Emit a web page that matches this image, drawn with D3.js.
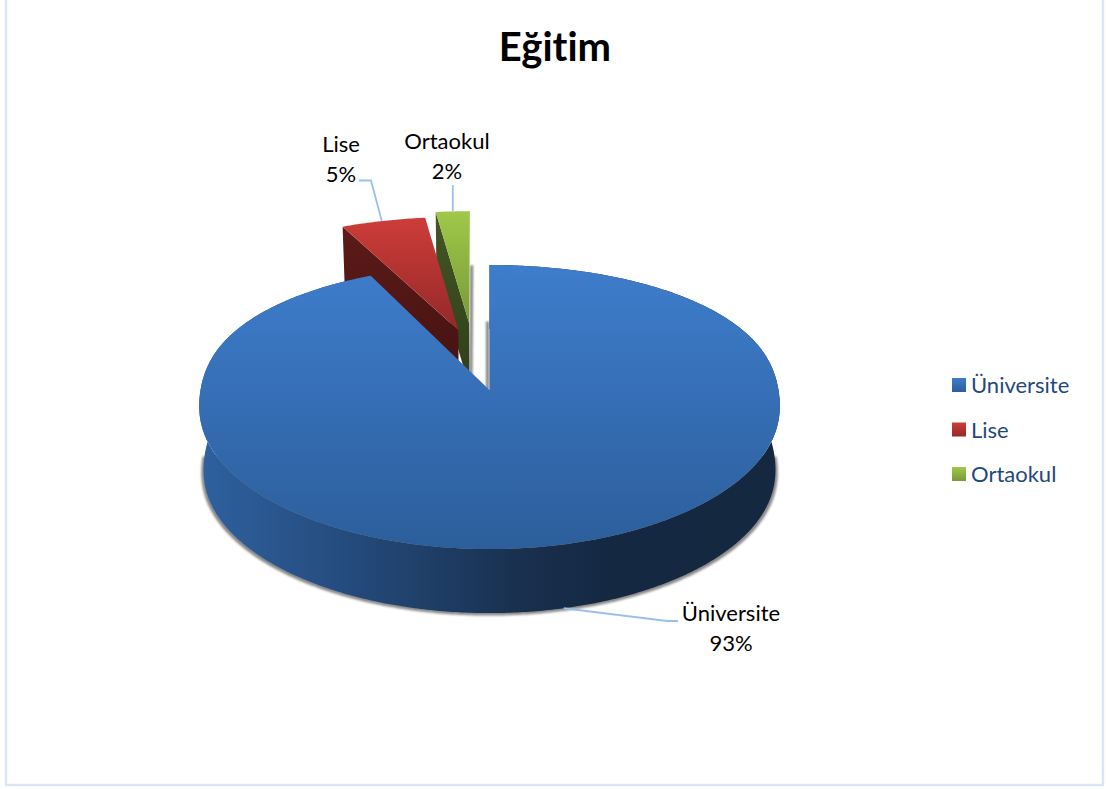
<!DOCTYPE html>
<html><head><meta charset="utf-8">
<script src="https://cdn.jsdelivr.net/npm/d3@7"></script>
<style>html,body{margin:0;padding:0;background:#fff}svg{display:block}text{font-family:Lato,"Open Sans",sans-serif;font-variant-ligatures:none}</style>
</head><body><svg id="chart" width="1107" height="789"></svg>
<script>
const titleText = "Eğitim";
const categories = ["Üniversite", "Lise", "Ortaokul"];
const shares = [93, 5, 2];
const percentLabels = ["93%", "5%", "2%"];

// gradient colours per slice: top face start/end, cut-face start/end
const topColors = [["#3e7dcc", "#2c5e9b"], ["#cd3d38", "#94282a"], ["#a0c84a", "#789a36"]];
const cutColors = [["#2c5e9b", "#14273f"], ["#5c1b18", "#431110"], ["#445626", "#2e3e18"]];
// how far each slice is pulled away from the pie centre, in disc units
const pull = [[0, 0], [-0.11, 0.452], [-0.072, 0.508]];

const svg = d3.select("#chart");
const defs = svg.append("defs");

const cx = 489.5, cy = 390, A = 289, B = 140, k = 0.12;
const depth = 64, bottomShrink = 0.985;

const angle = d3.scaleLinear().domain([0, d3.sum(shares)]).range([0, 2 * Math.PI]);
const starts = d3.cumsum([0, ...shares]);

// perspective projection of a point on the disc; far points are compressed,
// and the sideways taper eases off towards the back of the disc
function project(u, v) {
  const kx = 0.08 - 0.04 * Math.tanh(4 * v);
  return [cx + A * u / (1 + kx * v), cy - B * v / (1 + k * v)];
}
function projectLow(u, v) {
  const [x, y] = project(u, v);
  return [cx + (x - cx) * bottomShrink, y + depth];
}
function arcPoints(fn, p, a0, a1) {
  const n = Math.max(2, Math.ceil((a1 - a0) / 0.01));
  return d3.range(n + 1).map(i => {
    const a = a0 + (a1 - a0) * i / n;
    return fn(p[0] + Math.sin(a), p[1] + Math.cos(a));
  });
}
const line = d3.line();

function verticalGradient(id, stops, y0, y1) {
  const g = defs.append("linearGradient").attr("id", id)
    .attr("gradientUnits", "userSpaceOnUse")
    .attr("x1", 0).attr("x2", 0).attr("y1", y0).attr("y2", y1);
  g.append("stop").attr("offset", 0).attr("stop-color", stops[0]);
  g.append("stop").attr("offset", 1).attr("stop-color", stops[1]);
}

defs.append("filter").attr("id", "soft")
  .attr("filterUnits", "userSpaceOnUse").attr("x", 0).attr("y", 0).attr("width", 1107).attr("height", 789)
  .append("feGaussianBlur").attr("stdDeviation", 1.3);

// outer wall shading runs left to right
const wallGrad = defs.append("linearGradient").attr("id", "wall")
  .attr("gradientUnits", "userSpaceOnUse")
  .attr("x1", project(-1, 0)[0]).attr("x2", project(1, 0)[0]).attr("y1", 0).attr("y2", 0);
[[0, "#2e619f"], [0.22, "#264e82"], [0.38, "#1f4069"], [0.55, "#19304f"], [0.7, "#142842"], [1, "#14283f"]]
  .forEach(([o, c]) => wallGrad.append("stop").attr("offset", o).attr("stop-color", c));

// frame: the top edge falls outside the canvas
svg.append("rect").attr("x", 6).attr("y", -6).attr("width", 1097).attr("height", 791)
  .attr("fill", "#fff").attr("stroke", "#dbe6f5").attr("stroke-width", 2.4);

svg.append("text").attr("x", 555).attr("y", 61).attr("text-anchor", "middle")
  .attr("font-size", 40).attr("font-weight", 700).attr("fill", "#000").text(titleText);

const slices = categories.map((name, i) => {
  const a0 = angle(starts[i]), a1 = angle(starts[i + 1]), p = pull[i];
  const disc = a => [p[0] + Math.sin(a), p[1] + Math.cos(a)];
  return {
    name, i, a0, a1, p, disc,
    apex: project(p[0], p[1]),
    apexLow: projectLow(p[0], p[1])
  };
});

// soft shadows beneath the front of the body and along the cut edges
const shadow = svg.append("g").attr("filter", "url(#soft)");
const body = slices[0];
shadow.append("path").attr("fill", "#8a8a8a")
  .attr("d", line(arcPoints(projectLow, body.p, Math.PI / 2, 3 * Math.PI / 2).map(([x, y]) => [cx + (x - cx) * 1.008, y + 2.5])) + "Z");
const edgeShadow = shadow.append("g").attr("fill", "none").attr("stroke", "#808080").attr("stroke-width", 3);
const green = slices[2], red = slices[1];
edgeShadow.append("path").attr("d", line([projectLow(...green.disc(green.a1)), green.apexLow].map(([x, y], j) => [x + 1.5, j ? y : y - 10])));
edgeShadow.append("path").attr("d", line([projectLow(...red.disc(red.a0)), red.apexLow].map(([x, y]) => [x - 2, y + 1])));
edgeShadow.append("path").attr("d", line([project(0, 0.52), project(0, 0)].map(([x, y]) => [x - 2, y])));

// back to front: small slices first, then the large body
[2, 1, 0].forEach(i => {
  const s = slices[i];
  const rimPts = arcPoints(project, s.p, s.a0, s.a1);
  verticalGradient("top" + i, topColors[i], d3.min(rimPts, d => d[1]), Math.max(s.apex[1], d3.max(rimPts, d => d[1])));
  const g = svg.append("g");
  if (i === 0) {
    g.append("path").attr("fill", "url(#wall)")
      .attr("d", line([...rimPts, ...arcPoints(projectLow, s.p, s.a0, s.a1).reverse()]) + "Z");
  } else {
    const outerTop = project(...s.disc(s.a0));
    const outerLow = projectLow(...s.disc(s.a0));
    verticalGradient("cut" + i, cutColors[i], outerTop[1], s.apexLow[1]);
    g.append("path").attr("fill", `url(#cut${i})`)
      .attr("d", line([outerTop, s.apex, s.apexLow, outerLow]) + "Z");
  }
  g.append("path").attr("fill", `url(#top${i})`)
    .attr("d", line([s.apex, ...rimPts]) + "Z");
});

// leader lines run from each slice edge to its data label
const labelLayout = [
  { x: 731, y: 621, path: () => [projectLow(...body.disc(angle(46.3))), [667, 621], [678, 621]] },
  { x: 341, y: 152, path: () => [project(...red.disc((red.a0 + red.a1) / 2 - 0.005)), [371, 180.5], [359, 180.5]] },
  { x: 447, y: 149, path: () => { const p = project(...green.disc((green.a0 + green.a1) / 2)); return [p, [p[0], 185]]; } }
];
labelLayout.forEach((l, i) => {
  svg.append("path").attr("fill", "none").attr("stroke", "#9cc0ea").attr("stroke-width", 1.8).attr("d", line(l.path()));
  const t = svg.append("text").attr("text-anchor", "middle").attr("font-size", 22).attr("fill", "#000");
  t.append("tspan").attr("x", l.x).attr("y", l.y).text(categories[i]);
  t.append("tspan").attr("x", l.x).attr("y", l.y + 30).text(percentLabels[i]);
});

// legend
const legendY = d3.scalePoint().domain(categories).range([385, 474]);
categories.forEach((name, i) => {
  verticalGradient("leg" + i, topColors[i], legendY(name) - 7, legendY(name) + 7);
  svg.append("rect").attr("x", 952).attr("y", legendY(name) - 7).attr("width", 14).attr("height", 14).attr("fill", `url(#leg${i})`);
  svg.append("text").attr("x", 971).attr("y", legendY(name) + 8).attr("font-size", 22).attr("fill", "#1f497d").text(name);
});
</script></body></html>
